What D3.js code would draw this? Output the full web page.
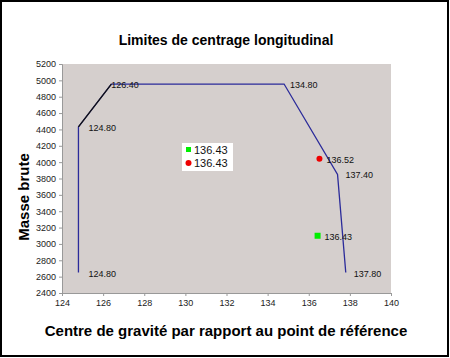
<!DOCTYPE html>
<html><head><meta charset="utf-8">
<script src="https://cdn.jsdelivr.net/npm/d3@7"></script>
<style>body{margin:0;background:#fff}svg{display:block}</style>
</head><body>
<script>
const limitX = [124.80, 124.80, 126.40, 134.80, 137.40, 137.80];
const limitY = [2650, 4430, 4955, 4955, 3850, 2650];
const limitLabels = ["124.80", "124.80", "126.40", "134.80", "137.40", "137.80"];
const greenPoint = [136.43, 3100];
const redPoint = [136.52, 4040];
const legendLabels = ["136.43", "136.43"];
const xTicks = [124,126,128,130,132,134,136,138,140];
const yTicks = [2400,2600,2800,3000,3200,3400,3600,3800,4000,4200,4400,4600,4800,5000,5200];

const W = 450, H = 358;
const svg = d3.select("body").append("svg").attr("width", W).attr("height", H)
  .style("font-family", "Arial, 'Liberation Sans', sans-serif");
svg.append("rect").attr("x",1).attr("y",1).attr("width",W-3).attr("height",H-3)
  .attr("fill","#fff").attr("stroke","#000").attr("stroke-width",2);

const x = d3.scaleLinear().domain([124,140]).range([62,391]);
const y = d3.scaleLinear().domain([2400,5200]).range([293,64]);

svg.append("rect").attr("x",x(124)).attr("y",y(5200)).attr("width",x(140)-x(124)).attr("height",y(2400)-y(5200))
  .attr("fill","#d5cfcd");

const xa = svg.append("g").attr("transform",`translate(0,${y(2400)})`)
  .call(d3.axisBottom(x).tickValues(xTicks).tickSize(3).tickPadding(4).tickFormat(d3.format("d")));
const ya = svg.append("g").attr("transform",`translate(${x(124)},0)`)
  .call(d3.axisLeft(y).tickValues(yTicks).tickSize(3).tickPadding(3).tickFormat(d3.format("d")));
[xa, ya].forEach(a => {
  a.selectAll("path").attr("stroke","#999");
  a.selectAll("line").attr("stroke","#999");
  a.selectAll("text").attr("fill","#222").style("font-size","9px").style("font-family","Arial, 'Liberation Sans', sans-serif");
});

const pts = limitX.map((v,i)=>[v, limitY[i]]);
const line = d3.line().x(d=>x(d[0])).y(d=>y(d[1]));
svg.append("path").attr("d", line(pts)).attr("fill","none").attr("stroke","#2b2b9a").attr("stroke-width",1.3);
svg.append("path").attr("d", line(pts.slice(1,3))).attr("fill","none").attr("stroke","#111").attr("stroke-width",1.3);

const lbl = svg.append("g").style("font-size","9px").attr("fill","#111");
const offs = [[10,4],[10,4],[0,4],[6,4],[8,4],[8,4]];
pts.forEach((p,i)=>{
  lbl.append("text").attr("x",x(p[0])+offs[i][0]).attr("y",y(p[1])+offs[i][1]).text(limitLabels[i]);
});

svg.append("rect").attr("x",x(greenPoint[0])-3).attr("y",y(greenPoint[1])-3).attr("width",6).attr("height",6).attr("fill","#00ee00");
svg.append("circle").attr("cx",x(redPoint[0])).attr("cy",y(redPoint[1])).attr("r",3).attr("fill","#ee0000");
lbl.append("text").attr("x",x(greenPoint[0])+7).attr("y",y(greenPoint[1])+4).text(legendLabels[0]);
lbl.append("text").attr("x",x(redPoint[0])+7).attr("y",y(redPoint[1])+4).text("136.52");

// legend
const lg = svg.append("g");
lg.append("rect").attr("x",182).attr("y",143).attr("width",51).attr("height",28).attr("fill","#fff");
lg.append("rect").attr("x",186).attr("y",147).attr("width",5).attr("height",5).attr("fill","#00ee00");
lg.append("circle").attr("cx",188.5).attr("cy",163).attr("r",3).attr("fill","#ee0000");
lg.append("text").attr("x",194).attr("y",154).style("font-size","11px").attr("fill","#111").text(legendLabels[0]);
lg.append("text").attr("x",194).attr("y",167).style("font-size","11px").attr("fill","#111").text(legendLabels[1]);

svg.append("text").attr("x",226).attr("y",45).attr("text-anchor","middle").style("font-size","14px").style("font-weight","bold")
  .text("Limites de centrage longitudinal");
svg.append("text").attr("x",226).attr("y",336).attr("text-anchor","middle").style("font-size","15px").style("font-weight","bold")
  .text("Centre de gravité par rapport au point de référence");
svg.append("text").attr("transform","translate(29,197) rotate(-90)").attr("text-anchor","middle").style("font-size","15px").style("font-weight","bold")
  .text("Masse brute");
</script>
</body></html>
